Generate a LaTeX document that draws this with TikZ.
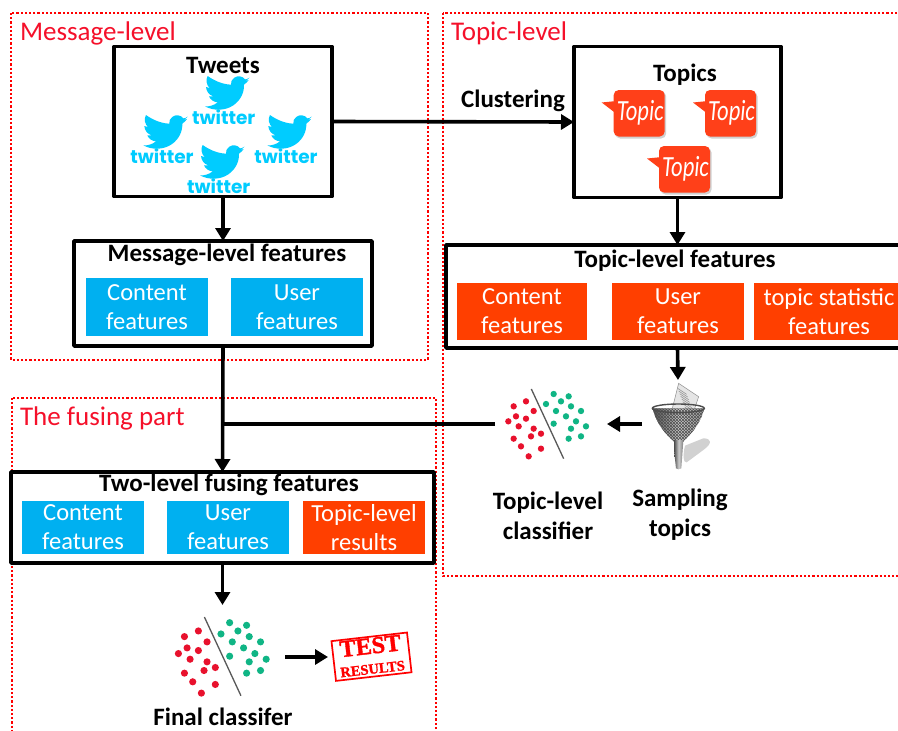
\documentclass[tikz,border=0pt]{standalone}
\usepackage{fontspec}
\setmainfont{Carlito}
\newfontfamily\twfont{Poppins}
\newfontfamily\stampfont[BoldFont={Liberation Serif Bold},BoldFeatures={FakeBold=1.5}]{Liberation Serif}
\usetikzlibrary{arrows.meta}
\definecolor{skyb}{HTML}{00B0F0}
\definecolor{orng}{HTML}{FF3F00}
\definecolor{tw}{HTML}{00CCFF}
\definecolor{tpc}{HTML}{FF4019}
\definecolor{dred}{HTML}{E8112D}
\definecolor{dgrn}{HTML}{10B585}
\definecolor{ttl}{HTML}{F5102A}
\tikzset{
  x=1pt,y=-1pt,
  every node/.style={inner sep=0pt,outer sep=0pt},
  region/.style={draw=red,line width=1.3pt,dash pattern=on 2.2pt off 2pt},
  regiontitle/.style={text=ttl,font=\fontsize{27}{29}\selectfont,anchor=west},
  framebox/.style={draw=black,line width=3.8pt,fill=white,anchor=north west,line join=round},
  fbox/.style={text=white,font=\fontsize{24.5}{29}\selectfont,align=center,anchor=north west},
  fblue/.style={fbox,fill=skyb},
  forange/.style={fbox,fill=orng},
  blabel/.style={font=\bfseries\fontsize{25}{30}\selectfont,align=center,text=black},
  link/.style={line width=3.6pt,draw=black},
  arr/.style={link,-{Triangle[length=13pt,width=15pt]}},
  pics/bird/.style={code={
    \fill[tw,scale=1/3] (133,5) .. controls (128,9) and (124,10) .. (120,10) .. controls (113,0) and (98,-2) .. (88,5) .. controls (80,10) and (77,18) .. (78,26) .. controls (50,25) and (25,12) .. (8,0) .. controls (1,12) and (5,28) .. (14,36) .. controls (10,36) and (6,35) .. (3,33) .. controls (4,46) and (12,57) .. (25,61) .. controls (20,62) and (16,62) .. (12,61) .. controls (16,71) and (26,78) .. (38,79) .. controls (27,88) and (14,92) .. (0,91) .. controls (25,105) and (60,105) .. (85,88) .. controls (108,72) and (118,48) .. (117,26) .. controls (123,22) and (128,17) .. (131,12) .. controls (127,14) and (123,15) .. (120,15) .. controls (126,12) and (131,9) .. (133,5) -- cycle;
    \node[text=tw,font=\twfont\bfseries\fontsize{18.5}{19}\selectfont] at (18.7,41) {twitter};
  }},
  pics/bubble/.style={code={
    \fill[black!18,rounded corners=5pt] (1.5,1.5) rectangle (52.5,48.5);
    \fill[tpc,rounded corners=5pt] (0,0) rectangle (51,46.5);
    \fill[tpc] (3,11) -- (-12,12.5) -- (3,24) -- cycle;
    \node[text=white,font=\itshape\fontsize{22.5}{24}\selectfont] at (26.5,23) {\scalebox{1}[1.3]{Topic}};
  }},
  pics/splitdots/.style={code={
    \foreach \px/\py in {71/94,108/79,131/108,78/124,108/131,55/139,86/154,131/161,153/176,123/184,71/191,93/214,153/221,116/244}
      \fill[dred] (\px,\py) circle (9.5);
    \foreach \px/\py in {191/57,236/64,213/79,168/87,243/94,198/108,273/108,228/124,258/139,191/146,288/154,243/161,273/184,236/191}
      \fill[dgrn] (\px,\py) circle (9.5);
    \draw[line width=1.3pt,black!65] (124,42) -- (221,251);
  }}
}
\begin{document}
\begin{tikzpicture}
\useasboundingbox (0,0) rectangle (898,731);
\fill[white] (0,0) rectangle (898,731);
% regions
\draw[region] (11,13) rectangle (428,360);
\draw[region] (443,13) rectangle (905,576);
\draw[region] (12,398) rectangle (436,740);
\node[regiontitle] (t1) at (20,33) {Message-level};
\node[regiontitle] (t2) at (451,33) {Topic-level};
\node[regiontitle] (t3) at (20,418) {The fusing part};
% main boxes
\node[framebox,minimum width=218pt,minimum height=150pt] (tweets) at (114,46.5) {};
\node[framebox,minimum width=207pt,minimum height=151pt] (topics) at (574,46.5) {};
\node[framebox,minimum width=298pt,minimum height=105pt] (mfeat) at (74,241) {};
\node[framebox,minimum width=470pt,minimum height=103pt] (tfeat) at (446,245) {};
\node[framebox,minimum width=423pt,minimum height=91pt] (ffeat) at (11,472) {};
% box titles
\node[blabel] (tl1) at (223,65) {Tweets};
\node[blabel] (tl2) at (685,75) {Topics};
\node[blabel] (tl3) at (513,101) {Clustering};
\node[blabel] (tl4) at (227,255) {Message-level features};
\node[blabel] (tl5) at (675,261) {Topic-level features};
\node[blabel] (tl6) at (229,485) {Two-level fusing features};
% feature boxes
\node[fblue,minimum width=122pt,minimum height=58pt] (m1) at (86,278) {Content\\features};
\node[fblue,minimum width=132pt,minimum height=58pt] (m2) at (231,278) {User\\features};
\node[forange,minimum width=130pt,minimum height=57pt] (o1) at (457,283) {Content\\features};
\node[forange,minimum width=132pt,minimum height=57pt] (o2) at (612,283) {User\\features};
\node[forange,minimum width=150pt,minimum height=57pt] (o3) at (754,283) {topic statistic\\features};
\node[fblue,minimum width=122pt,minimum height=53pt] (f1) at (22,501) {Content\\features};
\node[fblue,minimum width=122pt,minimum height=53pt] (f2) at (167,501) {User\\features};
\node[forange,minimum width=122pt,minimum height=53pt] (f3) at (303,501) {Topic-level\\results};
% birds
\pic at (205,76) {bird};
\pic at (143.3,115) {bird};
\pic at (267.3,115) {bird};
\pic at (200,145) {bird};
% bubbles
\pic at (613.7,90) {bubble};
\pic at (705,90) {bubble};
\pic at (659,146) {bubble};
% classifiers
\pic[scale=1/3] at (490,375) {splitdots};
\pic[scale=1.13/3] at (157.7,601.2) {splitdots};
% funnel
\begin{scope}[shift={(490,375)},scale=1/3]
  \fill[black!18] (585,212) -- (640,190) .. controls (665,190) and (668,205) .. (640,225) -- (590,262) .. controls (580,265) and (578,240) .. (585,212) -- cycle;
  \fill[black!10,draw=black!45,line width=.5pt] (566,25) -- (626,65) -- (610,112) -- (545,108) -- cycle;
  \foreach \k in {0,...,7}
    \draw[black!40,line width=.6pt] (563+\k*3,40+\k*8) -- (590+\k*3,58+\k*8);
  \begin{scope}
    \clip (488,100) -- (643,100) .. controls (630,150) and (600,180) .. (580,200) -- (552,200) .. controls (530,180) and (500,150) .. (488,100) -- cycle;
    \shade[left color=black!75,right color=black!40,middle color=black!20] (480,90) rectangle (650,205);
    \foreach \k in {-12,...,24}{
      \draw[black!70,line width=.5pt] (480+\k*9,90) -- (480+\k*9+115,205);
      \draw[black!70,line width=.5pt] (650-\k*9,90) -- (650-\k*9-115,205);
    }
  \end{scope}
  \draw[black!70,line width=1.4pt] (565,100) ellipse (78 and 13);
  \shade[left color=black!70,right color=black!50,middle color=black!20] (552,195) -- (580,195) -- (578,225) -- (574,280) .. controls (568,284) and (562,284) .. (558,280) -- (552,225) -- cycle;
\end{scope}
\coordinate (funneltop) at (678,380);
\coordinate (funnelleft) at (642,424);
\coordinate (clsright) at (607,424);
\coordinate (clsleft) at (495,424);
\coordinate (join) at (mfeat.south |- clsleft);
\coordinate (fclsin) at (ffeat.south |- 0,605);
\coordinate (fclsout) at (285,657);
\coordinate (stampin) at (328,657);
% classifier labels
\node[blabel] (c1) at (548,516) {Topic-level\\classifier};
\node[blabel] (c2) at (680,515) {Sampling\\topics};
\node[blabel] (c3) at (223,716.5) {Final classifer};
% stamp
\node[draw=red,line width=1.7pt,fill=white,rotate=6.5,minimum width=76pt,minimum height=40pt] (stamp) at (371.5,656.7) {};
\node[text=red,font=\stampfont\bfseries\fontsize{24}{24}\selectfont,rotate=6.5] (s1) at (370.3,646) {TEST};
\node[text=red,font=\stampfont\bfseries\fontsize{14.5}{15}\selectfont,rotate=6.5] (s2) at (372.6,669) {RESULTS};
% connectors
\draw[arr] (tweets.east) -- (topics.west);
\draw[arr] (tweets.south) -- (mfeat.north);
\draw[arr] (topics.south) -- (topics.south |- tfeat.north);
\draw[arr] (topics.south |- tfeat.south) -- (funneltop);
\draw[arr] (funnelleft) -- (clsright);
\draw[link] (clsleft) -- (join);
\draw[arr] (mfeat.south) -- (ffeat.north);
\draw[arr] (ffeat.south) -- (fclsin);
\draw[arr] (fclsout) -- (stampin);
\end{tikzpicture}
\end{document}
